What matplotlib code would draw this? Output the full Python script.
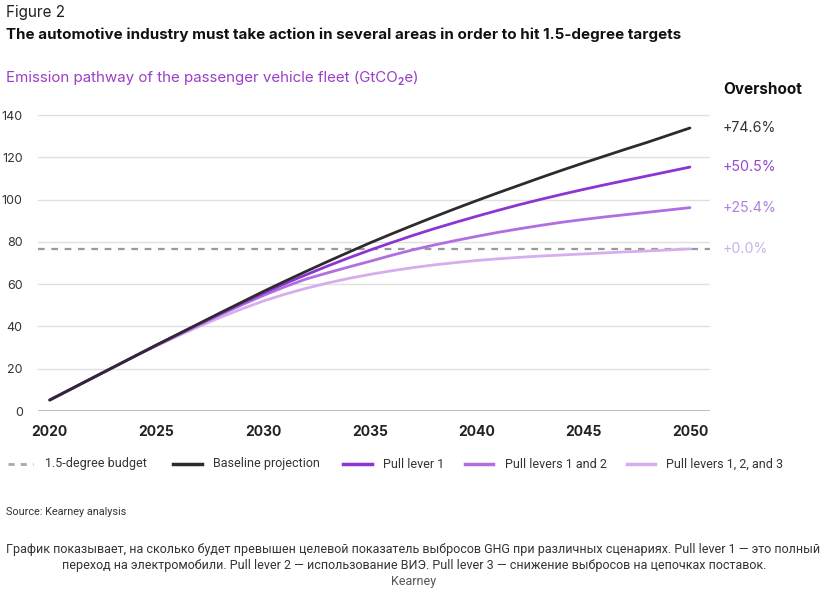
import matplotlib
matplotlib.use("Agg")
import matplotlib.pyplot as plt
from matplotlib.lines import Line2D

years = list(range(2020, 2051))
baseline = [5.2, 10.4, 15.6, 20.8, 26.0, 31.2, 36.3, 41.4, 46.5, 51.5, 56.5,
            61.3, 66.0, 70.6, 75.1, 79.5, 83.7, 87.8, 91.8, 95.7, 99.5,
            103.2, 106.8, 110.4, 113.9, 117.3, 120.6, 123.9, 127.1, 130.5, 133.9]
lever1 = [5.2, 10.4, 15.6, 20.8, 26.0, 31.2, 36.2, 41.2, 46.1, 51.0, 55.7,
          60.2, 64.4, 68.5, 72.4, 76.1, 79.6, 83.0, 86.2, 89.2, 92.1,
          94.9, 97.6, 100.1, 102.5, 104.8, 107.0, 109.1, 111.2, 113.3, 115.4]
lever12 = [5.2, 10.4, 15.6, 20.8, 26.0, 31.0, 35.9, 40.8, 45.6, 50.2, 54.6,
           58.7, 62.4, 65.3, 68.1, 70.8, 73.6, 76.2, 78.5, 80.6, 82.6,
           84.5, 86.2, 87.8, 89.3, 90.6, 91.8, 92.9, 94.0, 95.1, 96.2]
lever123 = [5.2, 10.4, 15.6, 20.8, 26.0, 30.8, 35.5, 40.0, 44.3, 48.3, 52.0,
            55.2, 58.0, 60.5, 62.7, 64.6, 66.3, 67.8, 69.1, 70.2, 71.2,
            72.0, 72.7, 73.3, 73.8, 74.3, 74.8, 75.3, 75.7, 76.2, 76.7]
budget = 76.7
overshoot_labels = ["+74.6%", "+50.5%", "+25.4%", "+0.0%"]
legend_labels = ["1.5-degree budget", "Baseline projection", "Pull lever 1",
                 "Pull levers 1 and 2", "Pull levers 1, 2, and 3"]
y_ticks = [0, 20, 40, 60, 80, 100, 120, 140]
x_ticks = [2020, 2025, 2030, 2035, 2040, 2045, 2050]

c_base = "#2e2a30"
c_l1 = "#8c35d3"
c_l2 = "#b06ee0"
c_l3 = "#d6aeee"
c_budget = "#9a9a9a"
lbl_colors = ["#333333", "#9448d0", "#b07fdf", "#c9b4e4"]

plt.rcParams['font.family'] = ['Inter', 'DejaVu Sans']

fig = plt.figure(figsize=(8.3, 6.03), dpi=100)
ax = fig.add_axes([38/830, 1-411/603, 672/830, (411-104.5)/603])

ax.set_xlim(2019.45, 2050.94)
ax.set_ylim(0, 145)

for v in y_ticks[1:]:
    ax.axhline(v, color="#e0e0e0", lw=1, zorder=0)
ax.axhline(0, color="#b5b5b5", lw=1.2, zorder=1)

ax.axhline(budget, color=c_budget, lw=1.6, ls=(0, (3, 3)), zorder=2)
ax.plot(years, lever123, color=c_l3, lw=2, zorder=3, solid_capstyle='round')
ax.plot(years, lever12, color=c_l2, lw=2, zorder=4, solid_capstyle='round')
ax.plot(years, lever1, color=c_l1, lw=2, zorder=5, solid_capstyle='round')
ax.plot(years, baseline, color=c_base, lw=2, zorder=6, solid_capstyle='round')

for s in ax.spines.values():
    s.set_visible(False)
ax.set_yticks(y_ticks)
ax.set_xticks(x_ticks)
ax.tick_params(axis='both', length=0)
ax.tick_params(axis='y', pad=11, labelsize=9, labelcolor="#333333")
ax.tick_params(axis='x', pad=10, labelsize=10, labelcolor="#222222")
for t in ax.get_xticklabels():
    t.set_fontweight('bold')

# overshoot labels
ends = [baseline[-1], lever1[-1], lever12[-1], lever123[-1]]
fig.text(723/830, 1-90/603, "Overshoot", fontsize=11, fontweight='bold',
         color="#111111", va='center', ha='left')
for val, lab, col in zip(ends, overshoot_labels, lbl_colors):
    ax.annotate(lab, xy=(1, val), xycoords=('axes fraction', 'data'),
                xytext=(13, 0), textcoords='offset pixels', fontsize=10.2,
                color=col, va='center', ha='left', annotation_clip=False)

# titles
fig.text(6/830, 1-13/603, "Figure 2", fontsize=11, color="#222222", va='center')
fig.text(6/830, 1-35/603,
         "The automotive industry must take action in several areas in order to hit 1.5-degree targets",
         fontsize=10.9, fontweight='bold', color="#111111", va='center')
fig.text(6/830, 1-78/603, "Emission pathway of the passenger vehicle fleet (GtCO₂e)",
         fontsize=10.9, color="#9b3fc6", va='center')

# legend (keys and labels placed in figure pixels)
rob = ['Roboto', 'DejaVu Sans']
leg_y = 1 - 464/603
key_styles = [dict(color="#a8a8a8", lw=2, ls=(0, (2.2, 2.2))),
              dict(color=c_base, lw=2.5),
              dict(color=c_l1, lw=2.5),
              dict(color=c_l2, lw=2.5),
              dict(color=c_l3, lw=2.5)]
key_x = [(8, 33), (173, 202), (343, 372), (465, 493), (627, 655)]
txt_x = [45, 213, 383, 505, 666]
for (x0, x1), tx, st, lab in zip(key_x, txt_x, key_styles, legend_labels):
    fig.add_artist(Line2D([x0/830, x1/830], [leg_y, leg_y],
                          transform=fig.transFigure, **st))
    fig.text(tx/830, leg_y, lab, fontsize=9.0, color="#333333",
             va='center', ha='left', family=rob)

fig.text(6/830, 1-512/603, "Source: Kearney analysis", fontsize=7.8,
         color="#333333", va='center', family=rob)
cap1 = ("График показывает, на сколько будет превышен целевой показатель выбросов GHG при различных сценариях. "
        "Pull lever 1 — это полный")
cap2 = ("переход на электромобили. Pull lever 2 — использование ВИЭ. "
        "Pull lever 3 — снижение выбросов на цепочках поставок.")
fig.text(413/830, 1-550/603, cap1, fontsize=9.0, color="#333333",
         ha='center', va='center', family=rob)
fig.text(414/830, 1-565.5/603, cap2, fontsize=9.0, color="#333333",
         ha='center', va='center', family=rob)
fig.text(414/830, 1-581/603, "Kearney", fontsize=9.0, color="#555555",
         ha='center', va='center', family=rob)

fig.savefig("out.png", dpi=100)
